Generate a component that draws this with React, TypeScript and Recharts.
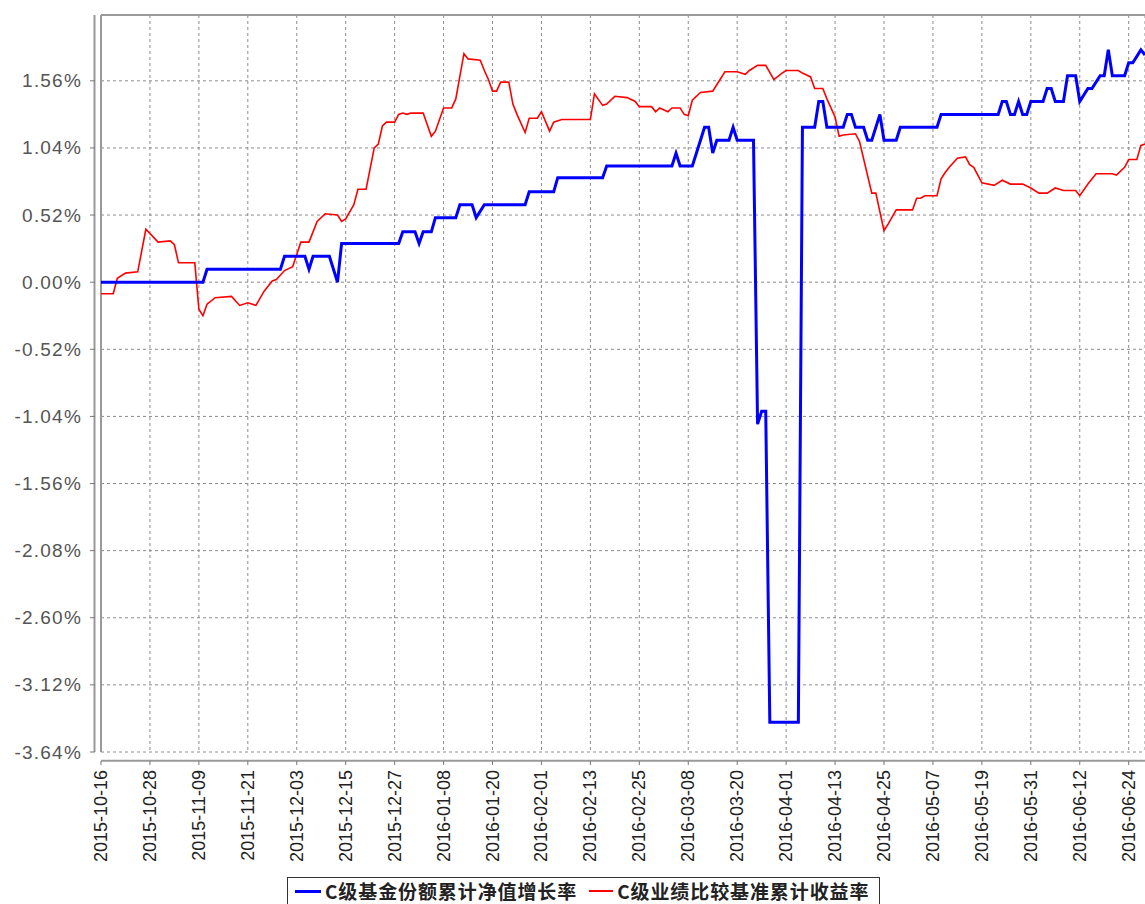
import React from "react";
import { LineChart, Line, XAxis, YAxis, CartesianGrid, ReferenceLine } from "recharts";

// day offsets are counted from START
const START = "2015-10-16";

const xTickLabels = [
    "2015-10-16", "2015-10-28", "2015-11-09", "2015-11-21", "2015-12-03", "2015-12-15",
    "2015-12-27", "2016-01-08", "2016-01-20", "2016-02-01", "2016-02-13", "2016-02-25",
    "2016-03-08", "2016-03-20", "2016-04-01", "2016-04-13", "2016-04-25", "2016-05-07",
    "2016-05-19", "2016-05-31", "2016-06-12", "2016-06-24",
];

const yTicks = [-3.64, -3.12, -2.6, -2.08, -1.56, -1.04, -0.52, 0, 0.52, 1.04, 1.56];

const LAST_DAY = 256;
const Y_MIN = -3.64;
const Y_MAX = 2.07;

// [day, %] C级基金份额累计净值增长率
const fundPoints: [number, number][] = [
    [0, 0], [25, 0], [26, 0.1], [44, 0.1], [45, 0.2], [50, 0.2], [51, 0.1], [52, 0.2],
    [56, 0.2], [58, 0], [59, 0.3], [73, 0.3], [74, 0.39], [77, 0.39], [78, 0.3], [79, 0.39],
    [81, 0.39], [82, 0.5], [87, 0.5], [88, 0.6], [91, 0.6], [92, 0.5], [94, 0.6], [104, 0.6],
    [105, 0.7], [111, 0.7], [112, 0.81], [123, 0.81], [124, 0.9], [140, 0.9], [141, 1.0],
    [142, 0.9], [145, 0.9], [147, 1.1], [148, 1.2], [149, 1.2], [150, 1.0], [151, 1.1],
    [154, 1.1], [155, 1.2], [156, 1.1], [160, 1.1], [161, -1.1], [162, -1.0], [163, -1.0],
    [164, -3.41], [171, -3.41], [172, 1.2], [175, 1.2], [176, 1.4], [177, 1.4], [178, 1.2],
    [182, 1.2], [183, 1.3], [184, 1.3], [185, 1.2], [187, 1.2], [188, 1.1], [189, 1.1],
    [191, 1.3], [192, 1.1], [195, 1.1], [196, 1.2], [205, 1.2], [206, 1.3], [220, 1.3],
    [221, 1.4], [222, 1.4], [223, 1.3], [224, 1.3], [225, 1.4], [226, 1.3], [227, 1.3],
    [228, 1.4], [231, 1.4], [232, 1.5], [233, 1.5], [234, 1.4], [236, 1.4], [237, 1.6],
    [239, 1.6], [240, 1.4], [242, 1.5], [243, 1.5], [245, 1.6], [246, 1.6], [247, 1.8],
    [248, 1.6], [251, 1.6], [252, 1.7], [253, 1.7], [255, 1.8], [256, 1.76],
];

// [day, %] C级业绩比较基准累计收益率
const benchPoints: [number, number][] = [
    [0, -0.09], [3, -0.09], [4, 0.03], [6, 0.07], [9, 0.08], [11, 0.41], [14, 0.31],
    [17, 0.32], [18, 0.29], [19, 0.15], [23, 0.15], [24, -0.21], [25, -0.26], [26, -0.17],
    [28, -0.12], [32, -0.11], [34, -0.18], [36, -0.16], [38, -0.18], [40, -0.07], [42, 0.01],
    [43, 0.02], [45, 0.09], [47, 0.12], [49, 0.31], [51, 0.31], [53, 0.47], [55, 0.53],
    [58, 0.52], [59, 0.47], [60, 0.49], [62, 0.6], [63, 0.72], [65, 0.72], [67, 1.04],
    [68, 1.07], [69, 1.21], [70, 1.24], [72, 1.24], [73, 1.3], [74, 1.31], [75, 1.3],
    [76, 1.31], [79, 1.31], [81, 1.13], [82, 1.17], [84, 1.35], [86, 1.35], [87, 1.42],
    [89, 1.77], [90, 1.73], [93, 1.72], [94, 1.64], [95, 1.57], [96, 1.48], [97, 1.48],
    [98, 1.55], [100, 1.55], [101, 1.38], [102, 1.3], [104, 1.16], [105, 1.27], [107, 1.27],
    [108, 1.32], [110, 1.17], [111, 1.24], [113, 1.26], [120, 1.26], [121, 1.46], [123, 1.37],
    [124, 1.38], [126, 1.44], [129, 1.43], [131, 1.4], [132, 1.36], [135, 1.36], [136, 1.32],
    [137, 1.35], [139, 1.32], [140, 1.35], [142, 1.35], [143, 1.3], [144, 1.29], [145, 1.41],
    [147, 1.47], [150, 1.48], [151, 1.53], [153, 1.63], [156, 1.63], [158, 1.61], [159, 1.64],
    [161, 1.68], [163, 1.68], [165, 1.57], [167, 1.62], [168, 1.64], [171, 1.64], [172, 1.62],
    [174, 1.59], [175, 1.5], [177, 1.5], [178, 1.42], [180, 1.28], [181, 1.13], [182, 1.14],
    [185, 1.15], [186, 1.09], [189, 0.69], [190, 0.69], [192, 0.4], [193, 0.45], [195, 0.56],
    [199, 0.56], [200, 0.65], [201, 0.65], [202, 0.67], [205, 0.67], [206, 0.8], [207, 0.85],
    [208, 0.89], [210, 0.96], [212, 0.97], [213, 0.91], [214, 0.89], [216, 0.77], [219, 0.75],
    [221, 0.79], [223, 0.76], [226, 0.76], [228, 0.73], [230, 0.69], [232, 0.69], [234, 0.73],
    [236, 0.71], [239, 0.71], [240, 0.67], [242, 0.76], [244, 0.84], [248, 0.84], [249, 0.83],
    [251, 0.89], [252, 0.95], [254, 0.95], [255, 1.06], [256, 1.07],
];

const FUND_NAME = "C级基金份额累计净值增长率";
const BENCH_NAME = "C级业绩比较基准累计收益率";

const W = 1145;
const H = 904;
const PLOT_LEFT = 101;
const PLOT_TOP = 15;
const PLOT_BOTTOM = 752;
const PX_PER_DAY = (W - PLOT_LEFT) / LAST_DAY;
const PX_PER_PCT = (PLOT_BOTTOM - PLOT_TOP) / (Y_MAX - Y_MIN);

const dayOf = (s: string) => (Date.parse(s) - Date.parse(START)) / 86400000;
const xTicks = xTickLabels.map(dayOf);
const labelOf = (d: number) => xTickLabels[xTicks.indexOf(d)] ?? "";

const fundData = fundPoints.map(([d, v]) => ({ d, v }));
const benchData = benchPoints.map(([d, v]) => ({ d, v }));

const FONT = "'Liberation Sans', Arial, sans-serif";

function YTick({ y, payload }: any) {
    return (
        <g>
            <line x1={PLOT_LEFT - 11} x2={PLOT_LEFT - 6} y1={y} y2={y} stroke="#777" strokeWidth={1} />
            <text
                x={PLOT_LEFT - 19}
                y={y}
                textAnchor="end"
                dominantBaseline="central"
                fontFamily={FONT}
                fontSize={19}
                letterSpacing={1.2}
                fill="#555"
            >
                {payload.value.toFixed(2)}%
            </text>
        </g>
    );
}

function XTick({ x, payload }: any) {
    return (
        <g>
            <line x1={x} x2={x} y1={PLOT_BOTTOM + 9} y2={PLOT_BOTTOM + 13} stroke="#777" strokeWidth={1} />
            <g transform={`translate(${x},${PLOT_BOTTOM + 18})`}>
                <text
                    transform="rotate(-90)"
                    textAnchor="end"
                    dominantBaseline="central"
                    fontFamily={FONT}
                    fontSize={18}
                    fill="#222"
                >
                    {labelOf(payload.value)}
                </text>
            </g>
        </g>
    );
}

export default function App() {
    return (
        <div style={{ position: "absolute", left: 0, top: 0, width: W, height: H, background: "#fff", overflow: "hidden" }}>
            <LineChart width={W} height={H} margin={{ top: PLOT_TOP, right: 0, bottom: 0, left: 0 }}>
                <CartesianGrid stroke="#8c8c8c" strokeDasharray="3 3" />
                <XAxis
                    type="number"
                    dataKey="d"
                    domain={[0, LAST_DAY]}
                    ticks={xTicks}
                    interval={0}
                    height={H - PLOT_BOTTOM}
                    axisLine={false}
                    tickLine={false}
                    tick={<XTick />}
                    allowDataOverflow
                />
                <YAxis
                    type="number"
                    domain={[Y_MIN, Y_MAX]}
                    ticks={yTicks}
                    interval={0}
                    width={PLOT_LEFT}
                    axisLine={false}
                    tickLine={false}
                    tick={<YTick />}
                    allowDataOverflow
                />
                {/* plot outline */}
                <ReferenceLine y={Y_MAX} stroke="#999" strokeWidth={2} ifOverflow="visible" />
                <ReferenceLine x={0} stroke="#999" strokeWidth={2} ifOverflow="visible" />
                {/* offset axis lines */}
                <ReferenceLine y={Y_MIN - 8.7 / PX_PER_PCT} stroke="#999" strokeWidth={2} ifOverflow="visible" />
                <ReferenceLine x={-6.5 / PX_PER_DAY} stroke="#999" strokeWidth={2} ifOverflow="visible" />
                <Line
                    data={benchData}
                    dataKey="v"
                    name={BENCH_NAME}
                    stroke="#ff0000"
                    strokeWidth={1.6}
                    dot={false}
                    isAnimationActive={false}
                />
                <Line
                    data={fundData}
                    dataKey="v"
                    name={FUND_NAME}
                    stroke="#0000ff"
                    strokeWidth={3}
                    dot={false}
                    isAnimationActive={false}
                />
            </LineChart>
            <div
                style={{
                    position: "absolute",
                    left: 287,
                    top: 877,
                    width: 593,
                    height: 27,
                    boxSizing: "border-box",
                    border: "1.5px solid #333",
                    borderBottom: "none",
                    display: "flex",
                    alignItems: "center",
                    paddingLeft: 7,
                    fontFamily: "'Noto Sans CJK SC', sans-serif",
                    fontWeight: 700,
                    fontSize: 19,
                    lineHeight: "20px",
                    letterSpacing: 0.9,
                    color: "#222",
                    whiteSpace: "nowrap",
                }}
            >
                <span style={{ width: 26, height: 3, background: "#0000ff", marginRight: 4 }} />
                <span>{FUND_NAME}</span>
                <span style={{ width: 24, height: 2, background: "#ff0000", marginLeft: 12, marginRight: 4 }} />
                <span>{BENCH_NAME}</span>
            </div>
        </div>
    );
}
